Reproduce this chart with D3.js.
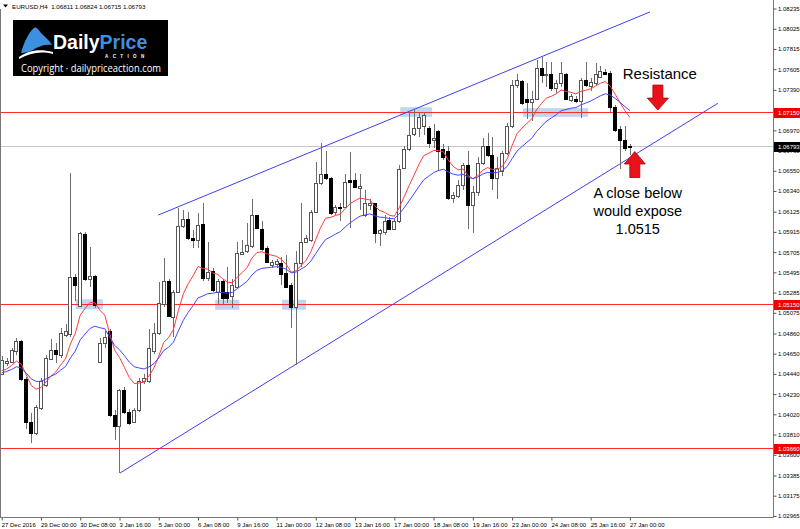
<!DOCTYPE html>
<html>
<head>
<meta charset="utf-8">
<script src="https://cdn.jsdelivr.net/npm/d3@7"></script>
<style>
body { margin: 0; background: #fff; }
svg { display: block; font-family: "Liberation Sans", Arial, sans-serif; }
</style>
</head>
<body>
<svg id="chart" width="800" height="529"></svg>
<script>
// EURUSD H4, 27 Dec 2016 - 27 Jan 2017
var symbolInfo = "EURUSD,H4  1.06811 1.06824 1.06715 1.06793";

var opens = [1.0444,1.0455,1.0456,1.0468,1.0478,1.0439,1.0394,1.0383,1.0409,1.0432,
  1.0460,1.0469,1.0464,1.0484,1.0485,1.0545,1.0515,1.0589,1.0543,1.0546,
  1.0456,1.0476,1.0489,1.0401,1.0390,1.0427,1.0404,1.0394,1.0406,1.0437,
  1.0437,1.0468,1.0487,1.0517,1.0541,1.0503,1.0529,1.0598,1.0605,1.0585,
  1.0583,1.0600,1.0544,1.0551,1.0529,1.0541,1.0529,1.0525,1.0534,1.0569,
  1.0572,1.0577,1.0609,1.0595,1.0575,1.0557,1.0558,1.0559,1.0549,1.0536,
  1.0513,1.0559,1.0581,1.0583,1.0612,1.0642,1.0652,1.0648,1.0612,1.0617,
  1.0617,1.0645,1.0645,1.0637,1.0609,1.0619,1.0621,1.0590,1.0591,1.0604,
  1.0594,1.0603,1.0658,1.0678,1.0693,1.0699,1.0702,1.0699,1.0687,1.0696,
  1.0678,1.0676,1.0627,1.0629,1.0640,1.0661,1.0619,1.0633,1.0663,1.0681,
  1.0671,1.0647,1.0655,1.0673,1.0702,1.0744,1.0748,1.0730,1.0726,1.0730,
  1.0762,1.0754,1.0756,1.0741,1.0746,1.0756,1.0728,1.0730,1.0727,1.0749,
  1.0743,1.0746,1.0752,1.0758,1.0757,1.0721,1.0698,1.0687,1.06811];
var highs = [1.0463,1.0461,1.0471,1.0481,1.0479,1.0441,1.0403,1.0412,1.0440,1.0464,
  1.0480,1.0476,1.0492,1.0496,1.0653,1.0548,1.0591,1.0591,1.0576,1.0547,
  1.0481,1.0489,1.0491,1.0406,1.0428,1.0430,1.0408,1.0409,1.0440,1.0444,
  1.0491,1.0497,1.0539,1.0564,1.0543,1.0531,1.0616,1.0614,1.0612,1.0593,
  1.0611,1.0622,1.0581,1.0554,1.0543,1.0543,1.0555,1.0543,1.0581,1.0583,
  1.0601,1.0626,1.0609,1.0603,1.0577,1.0562,1.0563,1.0565,1.0567,1.0538,
  1.0572,1.0622,1.0588,1.0614,1.0664,1.0684,1.0676,1.0649,1.0619,1.0622,
  1.0652,1.0674,1.0653,1.0652,1.0635,1.0626,1.0622,1.0595,1.0609,1.0607,
  1.0605,1.0661,1.0681,1.0717,1.0718,1.0716,1.0716,1.0702,1.0704,1.0697,
  1.0683,1.0681,1.0633,1.0645,1.0663,1.0676,1.0639,1.0669,1.0689,1.0694,
  1.0690,1.0669,1.0676,1.0705,1.0749,1.0756,1.0749,1.0746,1.0738,1.0770,
  1.0773,1.0768,1.0768,1.0749,1.0768,1.0757,1.0735,1.0733,1.0751,1.0768,
  1.0751,1.0767,1.0764,1.0761,1.0759,1.0723,1.0702,1.0702,1.06824];
var lows = [1.0443,1.0452,1.0455,1.0464,1.0437,1.0387,1.0372,1.0381,1.0407,1.0430,
  1.0458,1.0455,1.0461,1.0482,1.0482,1.0520,1.0513,1.0541,1.0534,1.0512,
  1.0455,1.0471,1.0399,1.0375,1.0341,1.0402,1.0391,1.0393,1.0404,1.0434,
  1.0435,1.0465,1.0484,1.0514,1.0503,1.0482,1.0528,1.0596,1.0583,1.0575,
  1.0575,1.0541,1.0541,1.0529,1.0517,1.0517,1.0518,1.0512,1.0533,1.0567,
  1.0570,1.0575,1.0595,1.0572,1.0559,1.0554,1.0554,1.0536,1.0533,1.0492,
  1.0453,1.0555,1.0580,1.0581,1.0611,1.0640,1.0645,1.0609,1.0609,1.0603,
  1.0616,1.0596,1.0637,1.0614,1.0607,1.0614,1.0580,1.0577,1.0588,1.0593,
  1.0593,1.0601,1.0657,1.0676,1.0691,1.0690,1.0692,1.0679,1.0679,1.0655,
  1.0666,1.0625,1.0622,1.0627,1.0635,1.0595,1.0590,1.0629,1.0661,1.0669,
  1.0635,1.0626,1.0650,1.0671,1.0699,1.0741,1.0723,1.0709,1.0707,1.0728,
  1.0746,1.0742,1.0738,1.0736,1.0742,1.0728,1.0726,1.0725,1.0710,1.0742,
  1.0738,1.0744,1.0751,1.0754,1.0716,1.0695,1.0657,1.0676,1.06715];
var closes = [1.0458,1.0457,1.0469,1.0478,1.0439,1.0394,1.0383,1.0410,1.0437,1.0461,
  1.0469,1.0465,1.0486,1.0489,1.0545,1.0536,1.0590,1.0543,1.0546,1.0516,
  1.0476,1.0482,1.0401,1.0390,1.0427,1.0404,1.0393,1.0406,1.0437,1.0440,
  1.0471,1.0486,1.0518,1.0541,1.0504,1.0529,1.0598,1.0605,1.0585,1.0583,
  1.0599,1.0544,1.0550,1.0531,1.0541,1.0523,1.0523,1.0536,1.0570,1.0571,
  1.0578,1.0609,1.0596,1.0574,1.0560,1.0560,1.0561,1.0548,1.0534,1.0513,
  1.0559,1.0581,1.0585,1.0612,1.0642,1.0652,1.0648,1.0611,1.0617,1.0616,
  1.0643,1.0643,1.0638,1.0639,1.0621,1.0621,1.0590,1.0593,1.0603,1.0595,
  1.0603,1.0657,1.0678,1.0692,1.0699,1.0711,1.0713,1.0684,1.0689,1.0676,
  1.0669,1.0627,1.0630,1.0640,1.0661,1.0619,1.0633,1.0663,1.0681,1.0671,
  1.0647,1.0658,1.0673,1.0702,1.0744,1.0749,1.0725,1.0726,1.0730,1.0762,
  1.0754,1.0756,1.0741,1.0746,1.0757,1.0730,1.0733,1.0727,1.0749,1.0744,
  1.0747,1.0756,1.0759,1.0755,1.0721,1.0697,1.0687,1.0679,1.06793];

// time labels, one every 8 bars
var dateLabels = ["27 Dec 2016","29 Dec 00:00","30 Dec 08:00","3 Jan 16:00","5 Jan 00:00",
  "6 Jan 08:00","9 Jan 16:00","11 Jan 00:00","12 Jan 08:00","13 Jan 16:00","17 Jan 00:00",
  "18 Jan 08:00","19 Jan 16:00","23 Jan 00:00","24 Jan 08:00","25 Jan 16:00","27 Jan 00:00"];
var priceTicks = [1.08235,1.08025,1.07815,1.07605,1.07390,1.07180,1.06970,1.06760,1.06550,
  1.06340,1.06125,1.05915,1.05705,1.05495,1.05285,1.05075,1.04860,1.04650,1.04440,1.04230,
  1.04020,1.03810,1.03600,1.03385,1.03175,1.02965];

var levels = [1.07150, 1.05150, 1.03660];
var bidPrice = 1.06793;
// trend channel [bar, price] end points
var upperChannel = [[31.9, 1.0609], [132.1, 1.0820]];
var lowerChannel = [[24.1, 1.0341], [145.9, 1.0725]];
// highlighted reaction zones [fromBar, toBar, topPrice, bottomPrice]
var zones = [[15.1, 20.6, 1.05215, 1.05111], [43.5, 48.4, 1.05210, 1.05106],
  [57.1, 62.0, 1.05210, 1.05106], [81.2, 87.7, 1.07210, 1.07110], [106.2, 119.5, 1.07200, 1.07110]];
// moving averages: periods and their values just before the first bar
var maPeriods = [10, 20];
var maStart = [1.0445, 1.0444];

var svg = d3.select("#chart");
var axisX = 773, axisY = 517;
var axisFont = 6;

var x = d3.scaleLinear().domain([0, 128]).range([1.7, 629.9]);
var y = d3.scaleLinear().domain([1.0715, 1.0366]).range([113, 449]);

var bars = opens.map(function (o, i) {
  return { i: i, o: o, h: highs[i], l: lows[i], c: closes[i] };
});

function ema(values, n, seed) {
  var k = 2 / (n + 1), prev = seed;
  return values.map(function (v) { prev = prev + k * (v - prev); return prev; });
}
// horizontal line row for a price
function rowY(p) { return Math.floor(y(p)) - 0.5; }

// zones
svg.append("g").selectAll("rect").data(zones).enter().append("rect")
  .attr("x", function (d) { return x(d[0]); })
  .attr("y", function (d) { return y(d[2]); })
  .attr("width", function (d) { return x(d[1]) - x(d[0]); })
  .attr("height", function (d) { return y(d[3]) - y(d[2]); })
  .attr("fill", "#bfd7ee");

// bid line and levels
svg.append("line").attr("x1", 1).attr("x2", axisX)
  .attr("y1", rowY(bidPrice)).attr("y2", rowY(bidPrice))
  .attr("stroke", "#c8c8c8");
svg.append("g").selectAll("line").data(levels).enter().append("line")
  .attr("x1", 1).attr("x2", axisX)
  .attr("y1", rowY).attr("y2", rowY)
  .attr("stroke", "#ff2a2a").attr("stroke-width", 1);

// channel
var chLine = d3.line().x(function (d) { return x(d[0]); }).y(function (d) { return y(d[1]); });
svg.append("path").attr("d", chLine(upperChannel)).attr("stroke", "#3f3ff5").attr("fill", "none");
svg.append("path").attr("d", chLine(lowerChannel)).attr("stroke", "#3f3ff5").attr("fill", "none");

// candles
var cg = svg.append("g").attr("shape-rendering", "crispEdges");
cg.selectAll("line").data(bars).enter().append("line")
  .attr("x1", function (d) { return Math.round(x(d.i)) + 0.5; })
  .attr("x2", function (d) { return Math.round(x(d.i)) + 0.5; })
  .attr("y1", function (d) { return Math.round(y(d.h)); })
  .attr("y2", function (d) { return Math.round(y(d.l)); })
  .attr("stroke", "#6e6e6e");
cg.selectAll("rect").data(bars).enter().append("rect")
  .attr("x", function (d) { return Math.round(x(d.i)) - 1.5; })
  .attr("y", function (d) { return Math.round(y(Math.max(d.o, d.c))) + 0.5; })
  .attr("width", 3)
  .attr("height", function (d) { return Math.max(0, Math.round(y(Math.min(d.o, d.c))) - Math.round(y(Math.max(d.o, d.c)))); })
  .attr("fill", function (d) { return d.c >= d.o ? "#fff" : "#000"; })
  .attr("stroke", function (d) { return d.c >= d.o ? "#555" : "#000"; });

// moving averages
var maColors = ["#ff3b3b", "#4646ff"];
maPeriods.forEach(function (n, k) {
  var vals = ema(closes, n, maStart[k]);
  var line = d3.line().x(function (d, i) { return x(i); }).y(function (d) { return y(d); });
  svg.append("path").attr("d", line(vals)).attr("fill", "none")
    .attr("stroke", maColors[k]).attr("stroke-width", 1);
});

// frame
svg.append("line").attr("x1", 0.5).attr("x2", 0.5).attr("y1", 9).attr("y2", axisY).attr("stroke", "#777");
svg.append("line").attr("x1", axisX + 0.5).attr("x2", axisX + 0.5).attr("y1", 0).attr("y2", axisY + 0.5).attr("stroke", "#777");

// right price axis
var ya = svg.append("g").attr("transform", "translate(" + (axisX + 0.5) + ",0)")
  .call(d3.axisRight(y).tickValues(priceTicks).tickSize(3).tickPadding(1.5).tickFormat(d3.format(".5f")));
ya.select(".domain").remove();
ya.selectAll("text").attr("font-size", axisFont).attr("fill", "#000").attr("font-family", "Liberation Sans, Arial");
ya.selectAll("line").attr("stroke", "#555");

// bottom time axis
var xa = svg.append("g").attr("transform", "translate(0," + (axisY + 0.5) + ")")
  .call(d3.axisBottom(x).tickValues(d3.range(0, 129, 8)).tickSize(3).tickPadding(2.5)
    .tickFormat(function (d, i) { return dateLabels[i]; }));
xa.select(".domain").attr("d", "M0,0H" + (axisX + 0.5)).attr("stroke", "#777");
xa.selectAll("text").attr("font-size", axisFont).attr("fill", "#000").attr("text-anchor", "start")
  .attr("dx", -0.5).attr("font-family", "Liberation Sans, Arial");
xa.selectAll("line").attr("stroke", "#555");

// price tags on axis
var tags = levels.map(function (d) { return { p: d, fill: "#f00000" }; })
  .concat([{ p: bidPrice, fill: "#000" }]);
var tg = svg.append("g").selectAll("g").data(tags).enter().append("g")
  .attr("transform", function (d) { return "translate(" + (axisX + 1) + "," + Math.floor(y(d.p)) + ")"; });
tg.append("rect").attr("x", 0).attr("y", -5).attr("width", 26).attr("height", 10)
  .attr("fill", function (d) { return d.fill; });
tg.append("text").attr("x", 4).attr("y", 2.2).attr("font-size", axisFont).attr("fill", "#fff")
  .text(function (d) { return d3.format(".5f")(d.p); });

// header
svg.append("path").attr("d", "M3,4.5L8,4.5L5.5,7.5Z").attr("fill", "#000");
svg.append("text").attr("x", 12).attr("y", 8.5).attr("font-size", 6.2).attr("fill", "#000")
  .attr("xml:space", "preserve").text(symbolInfo);

// logo
var logo = svg.append("g");
logo.append("rect").attr("x", 13).attr("y", 20).attr("width", 155).attr("height", 56).attr("fill", "#000");
logo.append("path").attr("d", "M21,53 C24,42 29,32 34,28 C37,26 39,31 42,34 C45,37 49,40 52,45 C45,44 39,46 33,50 C29,52 25,53 21,53 Z")
  .attr("fill", "#3d8fe0");
logo.append("path").attr("d", "M19,57 C28,51 38,48 53,52 L53,54 C40,51 30,53 19,59 Z").attr("fill", "#fff");
var brand = logo.append("text").attr("x", 53).attr("y", 49).attr("font-size", 19.5).attr("font-weight", "bold");
brand.append("tspan").attr("fill", "#fff").text("Daily");
brand.append("tspan").attr("fill", "#3d8fe0").text("Price");
logo.append("text").attr("x", 105).attr("y", 57.5).attr("font-size", 4.5).attr("font-weight", "bold")
  .attr("letter-spacing", 4.4).attr("fill", "#fff").text("ACTION");
logo.append("text").attr("x", 21).attr("y", 72).attr("font-size", 10)
  .attr("textLength", 140).attr("lengthAdjust", "spacingAndGlyphs")
  .attr("fill", "#fff").attr("font-family", "Open Sans, sans-serif").text("Copyright \u00b7 dailypriceaction.com");

// annotations
var notes = [
  { bar: 134.1, p: 1.0750, size: 15, lines: ["Resistance"] },
  { bar: 129.6, p: 1.0627, size: 14.5, lines: ["A close below", "would expose", "1.0515"] }
];
notes.forEach(function (n) {
  var t = svg.append("text").attr("text-anchor", "middle").attr("font-size", n.size)
    .attr("font-family", "Liberation Sans, Arial").attr("fill", "#000");
  n.lines.forEach(function (s, i) {
    t.append("tspan").attr("x", x(n.bar)).attr("y", y(n.p) + i * 18).text(s);
  });
});
// arrows: [bar, tail price, tip price]
var arrows = [[133.7, 1.0744, 1.0718], [129.0, 1.0648, 1.0675]];
arrows.forEach(function (a) {
  var cx = x(a[0]), y0 = y(a[1]), y1 = y(a[2]);
  var dir = y1 > y0 ? 1 : -1, len = Math.abs(y1 - y0), head = len * 0.48;
  var yb = y1 - dir * head;
  var d = "M" + (cx - 5) + "," + y0 + "L" + (cx + 5) + "," + y0 + "L" + (cx + 5) + "," + yb +
    "L" + (cx + 10.5) + "," + yb + "L" + cx + "," + y1 + "L" + (cx - 10.5) + "," + yb +
    "L" + (cx - 5) + "," + yb + "Z";
  svg.append("path").attr("d", d).attr("fill", "#e8121a").attr("stroke", "#b00000").attr("stroke-width", 0.8);
});
</script>
</body>
</html>
